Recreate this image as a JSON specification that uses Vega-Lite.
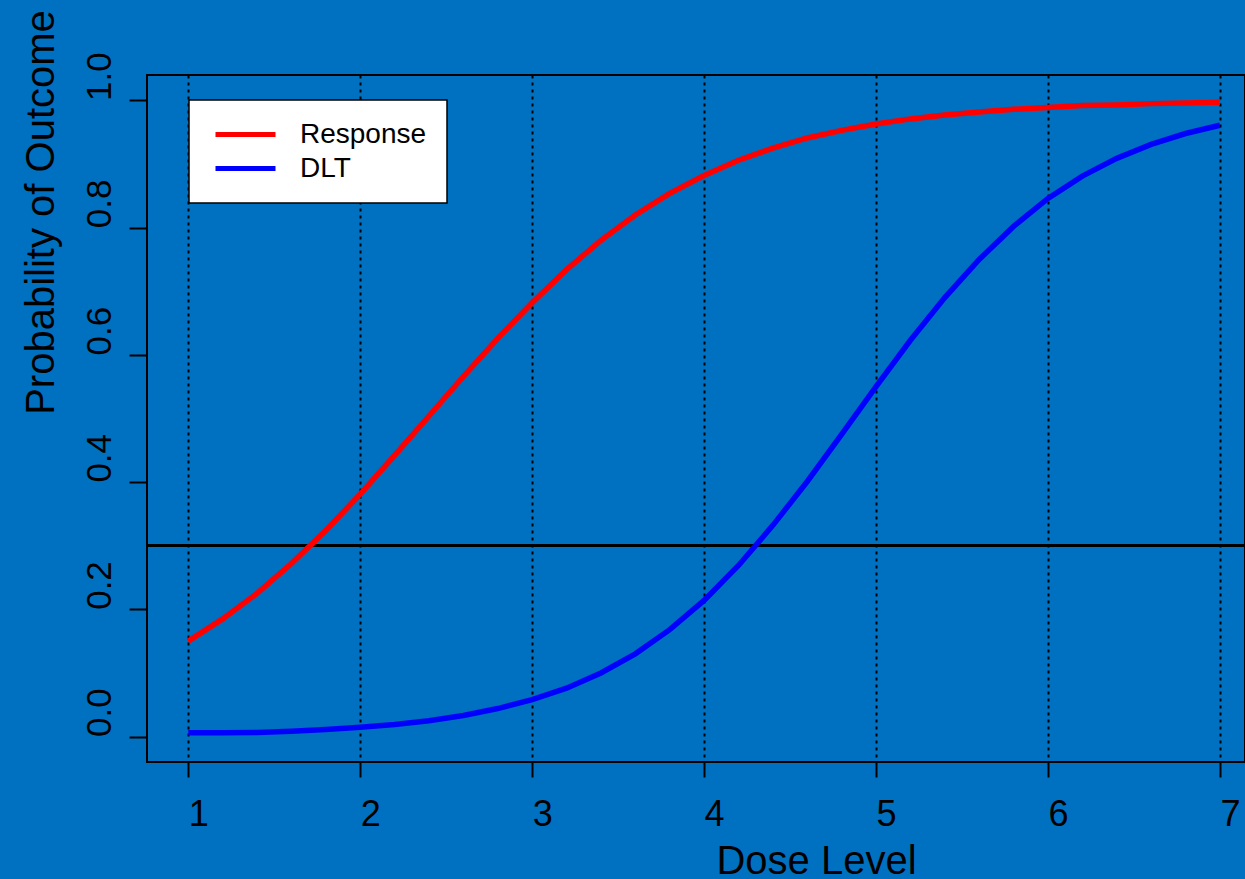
{
  "$schema": "https://vega.github.io/schema/vega-lite/v6.json",
  "autosize": {"type": "none"},
  "padding": {"left": 147, "top": 75, "right": 0, "bottom": 117},
  "width": 1098,
  "height": 687,
  "background": "#0070C0",
  "config": {
    "view": {"stroke": "black", "strokeWidth": 2},
    "font": "Liberation Sans",
    "axis": {
      "labelFont": "Liberation Sans",
      "titleFont": "Liberation Sans",
      "labelColor": "black",
      "titleColor": "black",
      "tickColor": "black",
      "tickWidth": 2,
      "titleFontWeight": "normal",
      "domain": false,
      "labelFlush": false,
      "labelOverlap": false,
      "labelBound": false
    },
    "legend": {
      "orient": "none",
      "legendX": 42,
      "legendY": 25,
      "fillColor": "white",
      "strokeColor": "black",
      "strokeWidth": 1.5,
      "cornerRadius": 0,
      "padding": 20,
      "symbolOffset": 22,
      "symbolType": "M-2.5,0H2.5",
      "symbolSize": 576,
      "symbolStrokeWidth": 5,
      "labelOffset": 40,
      "labelFont": "Liberation Sans",
      "labelFontSize": 28,
      "labelColor": "black",
      "rowPadding": 5,
      "title": null
    }
  },
  "data": {
    "values": [
      {"dose": 1.0, "p": 0.150, "outcome": "Response"},
      {"dose": 1.2, "p": 0.185, "outcome": "Response"},
      {"dose": 1.4, "p": 0.225, "outcome": "Response"},
      {"dose": 1.6, "p": 0.272, "outcome": "Response"},
      {"dose": 1.8, "p": 0.324, "outcome": "Response"},
      {"dose": 2.0, "p": 0.381, "outcome": "Response"},
      {"dose": 2.2, "p": 0.442, "outcome": "Response"},
      {"dose": 2.4, "p": 0.504, "outcome": "Response"},
      {"dose": 2.6, "p": 0.566, "outcome": "Response"},
      {"dose": 2.8, "p": 0.626, "outcome": "Response"},
      {"dose": 3.0, "p": 0.682, "outcome": "Response"},
      {"dose": 3.2, "p": 0.734, "outcome": "Response"},
      {"dose": 3.4, "p": 0.780, "outcome": "Response"},
      {"dose": 3.6, "p": 0.820, "outcome": "Response"},
      {"dose": 3.8, "p": 0.854, "outcome": "Response"},
      {"dose": 4.0, "p": 0.882, "outcome": "Response"},
      {"dose": 4.2, "p": 0.906, "outcome": "Response"},
      {"dose": 4.4, "p": 0.925, "outcome": "Response"},
      {"dose": 4.6, "p": 0.941, "outcome": "Response"},
      {"dose": 4.8, "p": 0.953, "outcome": "Response"},
      {"dose": 5.0, "p": 0.963, "outcome": "Response"},
      {"dose": 5.2, "p": 0.971, "outcome": "Response"},
      {"dose": 5.4, "p": 0.977, "outcome": "Response"},
      {"dose": 5.6, "p": 0.982, "outcome": "Response"},
      {"dose": 5.8, "p": 0.986, "outcome": "Response"},
      {"dose": 6.0, "p": 0.989, "outcome": "Response"},
      {"dose": 6.2, "p": 0.992, "outcome": "Response"},
      {"dose": 6.4, "p": 0.993, "outcome": "Response"},
      {"dose": 6.6, "p": 0.995, "outcome": "Response"},
      {"dose": 6.8, "p": 0.996, "outcome": "Response"},
      {"dose": 7.0, "p": 0.997, "outcome": "Response"},
      {"dose": 1.0, "p": 0.006, "outcome": "DLT"},
      {"dose": 1.2, "p": 0.006, "outcome": "DLT"},
      {"dose": 1.4, "p": 0.0065, "outcome": "DLT"},
      {"dose": 1.6, "p": 0.0085, "outcome": "DLT"},
      {"dose": 1.8, "p": 0.011, "outcome": "DLT"},
      {"dose": 2.0, "p": 0.0145, "outcome": "DLT"},
      {"dose": 2.2, "p": 0.019, "outcome": "DLT"},
      {"dose": 2.4, "p": 0.025, "outcome": "DLT"},
      {"dose": 2.6, "p": 0.033, "outcome": "DLT"},
      {"dose": 2.8, "p": 0.044, "outcome": "DLT"},
      {"dose": 3.0, "p": 0.058, "outcome": "DLT"},
      {"dose": 3.2, "p": 0.076, "outcome": "DLT"},
      {"dose": 3.4, "p": 0.100, "outcome": "DLT"},
      {"dose": 3.6, "p": 0.130, "outcome": "DLT"},
      {"dose": 3.8, "p": 0.168, "outcome": "DLT"},
      {"dose": 4.0, "p": 0.214, "outcome": "DLT"},
      {"dose": 4.2, "p": 0.269, "outcome": "DLT"},
      {"dose": 4.4, "p": 0.332, "outcome": "DLT"},
      {"dose": 4.6, "p": 0.401, "outcome": "DLT"},
      {"dose": 4.8, "p": 0.475, "outcome": "DLT"},
      {"dose": 5.0, "p": 0.550, "outcome": "DLT"},
      {"dose": 5.2, "p": 0.623, "outcome": "DLT"},
      {"dose": 5.4, "p": 0.690, "outcome": "DLT"},
      {"dose": 5.6, "p": 0.750, "outcome": "DLT"},
      {"dose": 5.8, "p": 0.802, "outcome": "DLT"},
      {"dose": 6.0, "p": 0.846, "outcome": "DLT"},
      {"dose": 6.2, "p": 0.881, "outcome": "DLT"},
      {"dose": 6.4, "p": 0.909, "outcome": "DLT"},
      {"dose": 6.6, "p": 0.931, "outcome": "DLT"},
      {"dose": 6.8, "p": 0.948, "outcome": "DLT"},
      {"dose": 7.0, "p": 0.961, "outcome": "DLT"}
    ]
  },
  "encoding": {
    "x": {
      "field": "dose",
      "type": "quantitative",
      "scale": {"domain": [0.76, 7.146], "nice": false, "zero": false},
      "axis": {
        "values": [1, 2, 3, 4, 5, 6, 7],
        "format": "d",
        "tickSize": 15,
        "labelFontSize": 36,
        "labelAlign": "left",
        "labelBaseline": "alphabetic",
        "labelPadding": 48,
        "grid": true,
        "gridColor": "black",
        "gridDash": [3, 4],
        "gridWidth": 2,
        "title": "Dose Level",
        "titleFontSize": 40,
        "titleAlign": "center",
        "titleBaseline": "alphabetic",
        "titleX": 669,
        "titleY": 111
      }
    },
    "y": {
      "field": "p",
      "type": "quantitative",
      "scale": {"domain": [-0.04, 1.04], "nice": false, "zero": false},
      "axis": {
        "values": [0, 0.2, 0.4, 0.6, 0.8, 1],
        "format": ".1f",
        "tickSize": 18,
        "labelFontSize": 35,
        "labelAngle": 270,
        "labelAlign": "left",
        "labelBaseline": "alphabetic",
        "labelPadding": 19,
        "grid": false,
        "title": "Probability of Outcome",
        "titleFontSize": 40,
        "titleAngle": 270,
        "titleAlign": "center",
        "titleBaseline": "alphabetic",
        "titleX": -94,
        "titleY": 137
      }
    }
  },
  "layer": [
    {
      "mark": {"type": "rule", "color": "black", "strokeWidth": 2},
      "encoding": {"x": null, "y": {"datum": 0.3}}
    },
    {
      "mark": {"type": "line", "strokeWidth": 5.5, "clip": true},
      "encoding": {
        "color": {
          "field": "outcome",
          "type": "nominal",
          "scale": {"domain": ["Response", "DLT"], "range": ["#FF0000", "#0000FF"]}
        }
      }
    }
  ]
}
